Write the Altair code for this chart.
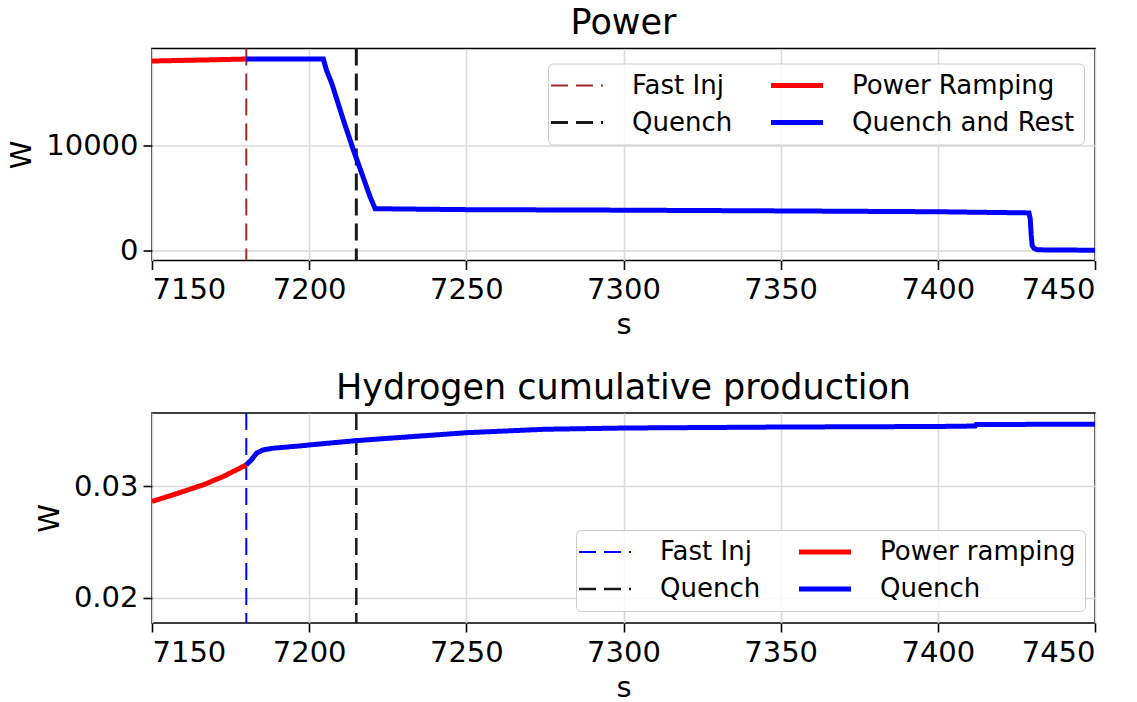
import json
import altair as alt
import pandas as pd

FONT = "DejaVu Sans"

# ---------------- data ----------------
x_ticks = [7150, 7200, 7250, 7300, 7350, 7400, 7450]

# Power panel
power_ramp_t = [7150, 7160, 7170, 7180]
power_ramp_w = [18000, 18060, 18120, 18190]
power_rest_t = [7180, 7204.5, 7205.5, 7207.2, 7210.9, 7214.1, 7216.2, 7219.4, 7221,
                7250, 7300, 7350, 7400, 7429, 7429.4, 7429.7, 7430, 7430.6, 7431.5,
                7435, 7450]
power_rest_w = [18190, 18190, 17140, 15870, 12380, 9520, 7780, 5080, 3970,
                3880, 3830, 3760, 3680, 3570, 3000, 1500, 500, 200, 80,
                40, 30]
power_events_t = [7180, 7215]
# legend order (column-major): Fast Inj, Quench | Power Ramping, Quench and Rest
power_keys = ["fi", "q", "pr", "qr"]
power_labels = ["Fast Inj", "Quench", "Power Ramping", "Quench and Rest"]
power_colors = ["#a52a2a", "#1a1a1a", "#ff0000", "#0000ff"]
power_widths = [2, 3, 5, 5]
power_yticks = [0, 10000]

# Hydrogen panel
h2_ramp_t = [7150, 7156.8, 7166.3, 7172.7, 7180]
h2_ramp_v = [0.02866, 0.02926, 0.03015, 0.03090, 0.03194]
h2_quench_t = [7180, 7181.6, 7183.3, 7185.4, 7188.6, 7197, 7200, 7215, 7250, 7275,
               7300, 7350, 7400, 7411.9, 7412.2, 7450]
h2_quench_v = [0.03194, 0.03239, 0.0330, 0.03329, 0.03344, 0.03364, 0.03373, 0.03412,
               0.03483, 0.03514, 0.03525, 0.03534, 0.03539, 0.03543, 0.03557, 0.03559]
h2_events_t = [7180, 7215]
h2_keys = ["fi", "q", "pr", "qr"]
h2_labels = ["Fast Inj", "Quench", "Power ramping", "Quench"]
h2_colors = ["#0000ff", "#1a1a1a", "#ff0000", "#0000ff"]
h2_widths = [2, 2.5, 5, 5]
h2_yticks = [0.02, 0.03]

dashes = [[17, 8], [17, 8], [1, 0], [1, 0]]


def panel(title, line_t1, line_v1, line_t2, line_v2, ev_t, keys, labels, colors,
          widths, ydomain, yticks, yfmt, height, lx, ly):
    wmap = dict(zip(keys, widths))
    lines = pd.DataFrame({
        "t": list(line_t1) + list(line_t2),
        "v": list(line_v1) + list(line_v2),
        "key": [keys[2]] * len(line_t1) + [keys[3]] * len(line_t2),
    })
    lines["w"] = lines["key"].map(wmap)
    events = pd.DataFrame({"t": ev_t, "key": [keys[0], keys[1]]})
    events["w"] = events["key"].map(wmap)
    label_map = json.dumps(dict(zip(keys, labels)))
    width_map = json.dumps(wmap)
    legend = alt.Legend(
        title=None, orient="none", legendX=lx, legendY=ly, columns=2,
        symbolType="stroke", symbolSize=2704, symbolOffset=7,
        labelFontSize=26, labelFont=FONT,
        labelColor="black", labelOffset=42, columnPadding=28, rowPadding=11,
        padding=9, fillColor="rgba(255,255,255,0.8)", strokeColor="#cccccc",
        cornerRadius=5, labelExpr=f"{label_map}[datum.label]", labelLimit=400,
        symbolStrokeWidth={"expr": f"({width_map})[datum && datum.value] || 5"},
    )
    color = alt.Color("key:N", scale=alt.Scale(domain=keys, range=colors), legend=legend)
    dash = alt.StrokeDash("key:N", scale=alt.Scale(domain=keys, range=dashes), legend=legend)
    sw = alt.StrokeWidth("w:Q", scale=None)
    xenc = alt.X("t:Q", scale=alt.Scale(domain=[7150, 7450], nice=False, zero=False),
                 axis=alt.Axis(values=x_ticks, format="d", title="s"))
    rules = alt.Chart(events).mark_rule().encode(x=xenc, color=color, strokeDash=dash,
                                                  strokeWidth=sw)
    line = alt.Chart(lines).mark_line(clip=True).encode(
        x=xenc,
        y=alt.Y("v:Q", scale=alt.Scale(domain=ydomain, nice=False, zero=False),
                axis=alt.Axis(values=yticks, format=yfmt, title="W")),
        color=color, strokeDash=dash, strokeWidth=sw, detail="key:N",
    )
    return alt.layer(rules, line).properties(
        width=943, height=height,
        title=alt.Title(title, fontSize=35, font=FONT, fontWeight="normal",
                        color="black", offset=6),
    )


top = panel("Power", power_ramp_t, power_ramp_w, power_rest_t, power_rest_w,
            power_events_t, power_keys, power_labels, power_colors, power_widths,
            [-952, 19190], power_yticks, "d", 212, 396, 15)
bottom = panel("Hydrogen cumulative production", h2_ramp_t, h2_ramp_v, h2_quench_t,
               h2_quench_v, h2_events_t, h2_keys, h2_labels, h2_colors, h2_widths,
               [0.01774, 0.0366], h2_yticks, ".2f", 210, 424, 117)

chart = alt.vconcat(top, bottom, spacing=28.5).resolve_scale(
    color="independent", strokeDash="independent"
).resolve_legend(
    color="independent", strokeDash="independent"
).properties(
    padding={"left": 6, "top": 4.5, "right": 5, "bottom": 0},
    background="white",
).configure_view(
    stroke="black", strokeWidth=1.6
).configure_axis(
    labelFont=FONT, labelFontSize=29, labelColor="black",
    titleFont=FONT, titleFontSize=29, titleFontWeight="normal", titleColor="black",
    grid=True, gridColor="#d9d9d9", gridWidth=1.6,
    domain=False, tickColor="black", tickWidth=1.6, tickSize=9,
).configure_axisX(
    labelPadding=6, titlePadding=6,
).configure_axisY(
    labelPadding=5, titlePadding=9,
)

chart.save("out.html", embed_options={"renderer": "svg", "actions": False})
